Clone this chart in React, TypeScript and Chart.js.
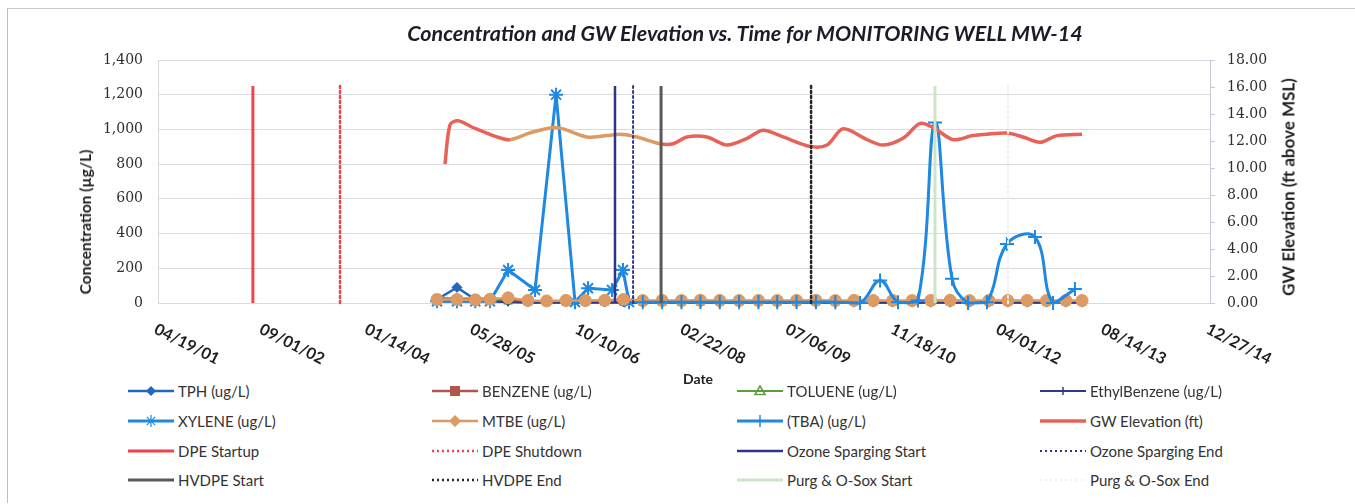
import React, { useEffect, useRef } from "react";
import { Chart, registerables } from "chart.js";

Chart.register(...registerables);

// ---------------- text ----------------
const TITLE = "Concentration and GW Elevation vs. Time for MONITORING WELL MW-14";
const Y_LEFT_TITLE = "Concentration (µg/L)";
const Y_RIGHT_TITLE = "GW Elevation (ft above MSL)";
const X_TITLE = "Date";

// ---------------- axes ----------------
const X_MIN_DATE = "2001-04-19";
const X_MAX_DATE = "2014-12-27";
const X_STEP_DAYS = 500;
const Y_LEFT_MAX = 1400;
const Y_LEFT_STEP = 200;
const Y_RIGHT_MAX = 18;
const Y_RIGHT_STEP = 2;

// ---------------- data ----------------
const LOW_DATES = [
  "2004-12-05", "2005-03-10", "2005-06-05", "2005-08-14", "2005-11-08",
  "2006-02-10", "2006-05-10", "2006-08-10", "2006-11-10", "2007-02-10",
  "2007-05-10", "2007-08-10", "2007-11-10", "2008-02-10", "2008-05-10",
  "2008-08-10", "2008-11-10", "2009-02-10", "2009-05-10", "2009-08-10",
  "2009-11-10", "2010-02-10", "2010-05-10", "2010-08-10", "2010-11-10",
  "2011-02-10", "2011-05-10", "2011-08-10", "2011-11-10", "2012-02-10",
  "2012-05-10", "2012-08-10", "2012-11-10", "2013-02-10", "2013-04-28",
];
const TPH_VALUES = [20, 90, 20, 20, 12, 8, 8, 8, 8, 8, 8, 5, 5, 5, 5, 5, 5, 5, 5, 5, 5, 5, 5, 5, 5, 5, 5, 5, 5, 5, 5, 5, 5, 5, 5];
const BENZENE_VALUES = [28, 25, 25, 25, 20, 10, 8, 8, 8, 8, 8, 8, 8, 8, 8, 8, 8, 8, 8, 8, 8, 8, 10, 10, 10, 10, 10, 10, 10, 10, 10, 10, 10, 10, 10];
const TOLUENE_VALUES = [15, 12, 12, 12, 8, 3, 3, 3, 3, 3, 3, 3, 3, 3, 3, 3, 3, 3, 3, 3, 3, 3, 3, 3, 3, 3, 3, 3, 3, 3, 3, 3, 3, 3, 3];
const ETHYLBENZENE_VALUES = [8, 8, 8, 8, 5, 2, 2, 2, 2, 2, 2, 2, 2, 2, 2, 2, 2, 2, 2, 2, 2, 2, 2, 2, 2, 2, 2, 2, 2, 2, 2, 2, 2, 2, 2];
const MTBE_VALUES = [20, 20, 18, 22, 30, 15, 12, 15, 14, 16, 20, 14, 15, 14, 16, 15, 14, 15, 14, 15, 16, 14, 15, 14, 15, 14, 15, 16, 14, 15, 14, 15, 14, 15, 14];

const XYLENE_DATES = [
  "2004-12-05", "2005-03-10", "2005-06-05", "2005-08-14", "2005-11-08", "2006-03-16",
  "2006-06-24", "2006-09-22", "2006-11-23", "2007-03-17", "2007-05-08", "2007-06-06",
];
const XYLENE_VALUES = [10, 10, 10, 10, 190, 75, 1200, 5, 85, 75, 190, 5];

const TBA_DATES = [
  "2007-08-10", "2007-11-10", "2008-02-10", "2008-05-10", "2008-08-10", "2008-11-10",
  "2009-02-10", "2009-05-10", "2009-08-10", "2009-11-10", "2010-02-10", "2010-06-08",
  "2010-09-11", "2010-12-05", "2011-03-10", "2011-05-30", "2011-08-19", "2011-11-03",
  "2012-02-01", "2012-05-06", "2012-09-16", "2012-12-11", "2013-03-25",
];
const TBA_VALUES = [5, 5, 5, 5, 5, 5, 5, 5, 5, 5, 5, 0, 130, 5, 15, 1040, 140, 0, 5, 340, 380, 0, 80];

const GW_DATES = [
  "2005-01-12", "2005-02-05", "2005-03-15", "2005-05-25", "2005-09-16", "2005-11-17",
  "2006-02-20", "2006-06-09", "2006-07-27", "2006-11-18", "2007-02-21", "2007-04-24",
  "2007-07-14", "2007-10-31", "2008-01-01", "2008-03-07", "2008-06-10", "2008-09-13",
  "2008-12-18", "2009-03-04", "2009-06-07", "2009-10-13", "2010-01-02", "2010-03-19",
  "2010-07-11", "2010-09-25", "2010-12-29", "2011-03-20", "2011-05-21", "2011-08-24",
  "2011-11-27", "2012-05-06", "2012-07-21", "2012-10-10", "2012-12-30", "2013-04-28",
];
const GW_VALUES = [
  10.3, 13.2, 13.5, 13.0, 12.3, 12.1, 12.6, 13.0, 12.9, 12.3, 12.4, 12.5,
  12.3, 11.8, 11.8, 12.3, 12.3, 11.7, 12.2, 12.8, 12.3, 11.6, 11.7, 12.9,
  12.1, 11.7, 12.2, 13.3, 13.0, 12.1, 12.4, 12.6, 12.3, 11.9, 12.4, 12.5,
];
// part of the GW line drawn in the tan colour in the original
const GW_TAN_FROM = "2005-11-17";
const GW_TAN_TO = "2007-10-31";

const EVENT_LABELS = [
  "DPE Startup", "DPE Shutdown", "Ozone Sparging Start", "Ozone Sparging End",
  "HVDPE Start", "HVDPE End", "Purg & O-Sox Start", "Purg & O-Sox End",
];
const EVENT_DATES = [
  "2002-07-14", "2003-09-01", "2007-03-31", "2007-06-25",
  "2007-11-05", "2009-10-18", "2011-05-30", "2012-05-11",
];
const EVENT_TOP = 1250;

// ---------------- helpers ----------------
const DAY_MS = 86400000;
const EXCEL_EPOCH = Date.UTC(1899, 11, 30);
const toSerial = (d: string) => Math.round((Date.parse(d + "T00:00:00Z") - EXCEL_EPOCH) / DAY_MS);
const pad2 = (n: number) => (n < 10 ? "0" : "") + n;
const fmtSerial = (s: number) => {
  const dt = new Date(EXCEL_EPOCH + s * DAY_MS);
  return `${pad2(dt.getUTCMonth() + 1)}/${pad2(dt.getUTCDate())}/${pad2(dt.getUTCFullYear() % 100)}`;
};
const pts = (dates: string[], vals: number[]) => dates.map((d, i) => ({ x: toSerial(d), y: vals[i] }));

type Style = {
  color: string;
  width: number;
  dash?: number[];
  marker?: string;
  radius?: number;
};

const RED_GW = "#e8625a";
const TAN = "#dd9a62";

type Series = { label: string; data: { x: number; y: number }[]; axis: string; style: Style; tension?: number };

const SERIES: Series[] = [
  { label: "TPH (ug/L)", data: pts(LOW_DATES, TPH_VALUES), axis: "y", style: { color: "#2167c0", width: 2.5, marker: "rectRot", radius: 5 } },
  { label: "BENZENE (ug/L)", data: pts(LOW_DATES, BENZENE_VALUES), axis: "y", style: { color: "#b0564a", width: 2.5, marker: "rect", radius: 5 } },
  { label: "TOLUENE (ug/L)", data: pts(LOW_DATES, TOLUENE_VALUES), axis: "y", style: { color: "#5c9b3e", width: 2, marker: "triangle", radius: 5 } },
  { label: "EthylBenzene (ug/L)", data: pts(LOW_DATES, ETHYLBENZENE_VALUES), axis: "y", style: { color: "#2d3a86", width: 2, marker: "cross", radius: 4 } },
  { label: "XYLENE (ug/L)", data: pts(XYLENE_DATES, XYLENE_VALUES), axis: "y", style: { color: "#1f88e0", width: 3, marker: "star", radius: 7 } },
  { label: "MTBE (ug/L)", data: pts(LOW_DATES, MTBE_VALUES), axis: "y", style: { color: TAN, width: 2.5, marker: "circle", radius: 6 } },
  { label: "(TBA) (ug/L)", data: pts(TBA_DATES, TBA_VALUES), axis: "y", style: { color: "#1f88e0", width: 3, marker: "cross", radius: 7 }, tension: 0.4 },
  { label: "GW Elevation (ft)", data: pts(GW_DATES, GW_VALUES), axis: "y1", style: { color: RED_GW, width: 3.5 }, tension: 0.3 },
];

const EVENT_STYLES: Style[] = [
  { color: "#f0444c", width: 3 },
  { color: "#f0444c", width: 2.5, dash: [2, 3] },
  { color: "#2e3586", width: 2.5 },
  { color: "#2e3586", width: 2, dash: [2, 3] },
  { color: "#595959", width: 3 },
  { color: "#262626", width: 2.5, dash: [2, 3] },
  { color: "#cde5c6", width: 3 },
  { color: "#eef2ea", width: 2, dash: [2, 3] },
];

const EVENTS: Series[] = EVENT_LABELS.map((label, i) => ({
  label,
  data: [
    { x: toSerial(EVENT_DATES[i]), y: 0 },
    { x: toSerial(EVENT_DATES[i]), y: EVENT_TOP },
  ],
  axis: "y",
  style: EVENT_STYLES[i],
}));

const ALL = [...SERIES, ...EVENTS];

// ---------------- layout ----------------
const W = 1355;
const CANVAS_H = 375;
const PLOT_LEFT = 158;
const PLOT_RIGHT = 1210;
const PLOT_TOP = 60;
const PLOT_BOTTOM = 303;
const LEGEND_COLS = [128, 432, 737, 1040];
const LEGEND_ROWS = [391, 421, 451, 480];

const xLabelPlugin = {
  id: "rotatedXLabels",
  afterDraw(chart: any) {
    const sc = chart.scales.x;
    const ctx = chart.ctx;
    ctx.save();
    ctx.font = "bold 16px Lato";
    ctx.fillStyle = "#1e1e1e";
    ctx.textAlign = "left";
    ctx.textBaseline = "top";
    sc.ticks.forEach((t: any) => {
      const px = sc.getPixelForValue(t.value);
      ctx.save();
      ctx.translate(px + 1, chart.chartArea.bottom + 18);
      ctx.rotate((27 * Math.PI) / 180);
      ctx.fillText(fmtSerial(t.value), 0, 0);
      ctx.restore();
    });
    ctx.restore();
  },
};

function Swatch({ s }: { s: Style }) {
  const w = 46, h = 16, cx = 23, cy = 8;
  const r = Math.min(s.radius ?? 0, 6);
  let m: React.ReactNode = null;
  const c = s.color;
  switch (s.marker) {
    case "rectRot":
      m = <polygon points={`${cx},${cy - r} ${cx + r},${cy} ${cx},${cy + r} ${cx - r},${cy}`} fill={c} />;
      break;
    case "rect":
      m = <rect x={cx - r} y={cy - r} width={2 * r} height={2 * r} fill={c} />;
      break;
    case "triangle":
      m = <polygon points={`${cx},${cy - r} ${cx + r},${cy + r * 0.7} ${cx - r},${cy + r * 0.7}`} fill="none" stroke={c} strokeWidth={1.5} />;
      break;
    case "circle":
      m = <polygon points={`${cx},${cy - r} ${cx + r},${cy} ${cx},${cy + r} ${cx - r},${cy}`} fill={c} />;
      break;
    case "cross":
      m = (
        <g stroke={c} strokeWidth={1.5}>
          <line x1={cx} y1={cy - r} x2={cx} y2={cy + r} />
        </g>
      );
      break;
    case "star":
      m = (
        <g stroke={c} strokeWidth={1.2}>
          <line x1={cx} y1={cy - r} x2={cx} y2={cy + r} />
          <line x1={cx - r * 0.7} y1={cy - r * 0.7} x2={cx + r * 0.7} y2={cy + r * 0.7} />
          <line x1={cx + r * 0.7} y1={cy - r * 0.7} x2={cx - r * 0.7} y2={cy + r * 0.7} />
        </g>
      );
      break;
  }
  return (
    <svg width={w} height={h} style={{ display: "block" }}>
      <line x1={0} y1={cy} x2={w} y2={cy} stroke={c} strokeWidth={s.width} strokeDasharray={s.dash ? s.dash.join(" ") : undefined} />
      {m}
    </svg>
  );
}

export default function App() {
  const ref = useRef<HTMLCanvasElement | null>(null);

  useEffect(() => {
    if (!ref.current) return;
    const tanFrom = toSerial(GW_TAN_FROM);
    const tanTo = toSerial(GW_TAN_TO);
    const datasets = ALL.map((s, i) => ({
      label: s.label,
      data: s.data,
      yAxisID: s.axis,
      borderColor: s.style.color,
      backgroundColor: s.style.color,
      borderWidth: s.style.width,
      borderDash: s.style.dash ?? [],
      borderCapStyle: s.style.dash ? "round" : "butt",
      pointStyle: s.style.marker ?? false,
      pointRadius: s.style.marker ? s.style.radius : 0,
      pointBorderWidth: s.style.marker === "star" || s.style.marker === "cross" ? 2 : 1,
      pointBorderColor: s.style.color,
      pointBackgroundColor: s.style.color,
      tension: s.tension ?? 0,
      showLine: true,
      fill: false,
      order: -i,
      clip: false as any,
      segment:
        s.axis === "y1"
          ? {
              borderColor: (ctx: any) =>
                ctx.p0.parsed.x >= tanFrom && ctx.p1.parsed.x <= tanTo ? TAN : RED_GW,
            }
          : undefined,
    }));

    const chart = new Chart(ref.current, {
      type: "line",
      data: { datasets: datasets as any },
      options: {
        animation: false,
        responsive: false,
        maintainAspectRatio: false,
        layout: { padding: { top: PLOT_TOP, left: 0, right: 0, bottom: 0 } },
        plugins: {
          legend: { display: false },
          title: { display: false },
          tooltip: { enabled: false },
        },
        scales: {
          x: {
            type: "linear",
            min: toSerial(X_MIN_DATE),
            max: toSerial(X_MAX_DATE),
            ticks: { stepSize: X_STEP_DAYS, display: false },
            grid: { display: false },
            border: { display: false },
            afterFit: (s: any) => {
              s.height = CANVAS_H - PLOT_BOTTOM;
            },
          },
          y: {
            position: "left",
            min: 0,
            max: Y_LEFT_MAX,
            ticks: {
              stepSize: Y_LEFT_STEP,
              padding: 15,
              color: "#2e2e2e",
              font: { family: "DejaVu Serif", size: 14 },
              callback: (v: any) => Number(v).toLocaleString("en-US"),
            },
            grid: { color: "#dadae2", drawTicks: false },
            border: { color: "#dcd4de" },
            afterFit: (s: any) => {
              s.width = PLOT_LEFT;
            },
          },
          y1: {
            position: "right",
            min: 0,
            max: Y_RIGHT_MAX,
            ticks: {
              stepSize: Y_RIGHT_STEP,
              padding: 12,
              color: "#2e2e2e",
              font: { family: "DejaVu Serif", size: 14 },
              callback: (v: any) => Number(v).toFixed(2),
            },
            grid: { drawOnChartArea: false, drawTicks: true, tickLength: 5, color: "#c8c8da" },
            border: { color: "#c8c8da" },
            afterFit: (s: any) => {
              s.width = W - PLOT_RIGHT;
            },
          },
        },
      } as any,
      plugins: [xLabelPlugin],
    });
    return () => chart.destroy();
  }, []);

  const txt: React.CSSProperties = { position: "absolute", whiteSpace: "nowrap", fontFamily: "Lato" };

  return (
    <div style={{ position: "absolute", left: 0, top: 0, width: W, height: 504, background: "#fff", overflow: "hidden" }}>
      <div style={{ position: "absolute", left: 7, top: 8, width: 1350, height: 494, borderLeft: "1px solid #bdbdca", borderTop: "1px solid #c8c8d2" }} />
      <canvas ref={ref} width={W} height={CANVAS_H} style={{ position: "absolute", left: 0, top: 0, width: W, height: CANVAS_H }} />
      <div style={{ ...txt, left: 745, top: 33, transform: "translate(-50%,-50%)", fontWeight: 700, fontStyle: "italic", fontSize: 21.5, color: "#1c1c28" }}>
        {TITLE}
      </div>
      <div style={{ ...txt, left: 85, top: 222, transform: "translate(-50%,-50%) rotate(-90deg)", fontWeight: 700, fontSize: 15.5, color: "#1e1e1e" }}>
        {Y_LEFT_TITLE}
      </div>
      <div style={{ ...txt, left: 1288, top: 187, transform: "translate(-50%,-50%) rotate(-90deg)", fontWeight: 700, fontSize: 17, color: "#1e1e1e" }}>
        {Y_RIGHT_TITLE}
      </div>
      <div style={{ ...txt, left: 698, top: 378, transform: "translate(-50%,-50%)", fontWeight: 700, fontSize: 14, color: "#1e1e1e" }}>
        {X_TITLE}
      </div>
      {ALL.map((s, i) => (
        <div
          key={s.label}
          style={{
            ...txt,
            left: LEGEND_COLS[i % 4],
            top: LEGEND_ROWS[Math.floor(i / 4)] - 9,
            height: 18,
            display: "flex",
            alignItems: "center",
            fontSize: 15,
            color: "#333333",
          }}
        >
          <Swatch s={s.style} />
          <span style={{ marginLeft: 4 }}>{s.label}</span>
        </div>
      ))}
    </div>
  );
}
